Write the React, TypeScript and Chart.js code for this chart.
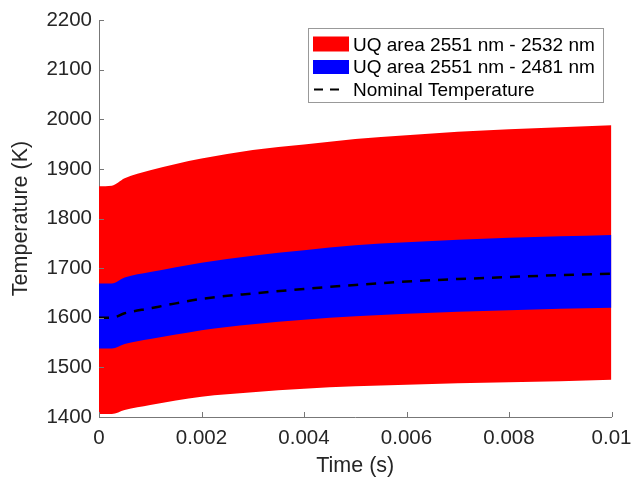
import { useEffect, useRef } from "react";
import { Chart, registerables } from "chart.js";

Chart.register(...registerables);

// Time (s)
const timeS = [0, 0.00025, 0.0005, 0.001, 0.0015, 0.002, 0.003, 0.004, 0.005, 0.006, 0.007, 0.008, 0.009, 0.01];
// Outer UQ band (2551 nm - 2532 nm)
const redUpper = [1865, 1866, 1881, 1897, 1910, 1921, 1938, 1949, 1960, 1968, 1975, 1980, 1984, 1988];
const redLower = [1406, 1406, 1414, 1424, 1433, 1441, 1450, 1457, 1462, 1465, 1468, 1470, 1472, 1475];
// Inner UQ band (2551 nm - 2481 nm)
const blueUpper = [1669, 1669, 1681, 1692, 1702, 1711, 1725, 1736, 1746, 1752, 1757, 1761, 1764, 1767];
const blueLower = [1538, 1538, 1547, 1557, 1566, 1575, 1587, 1596, 1603, 1608, 1612, 1615, 1618, 1620];
// Nominal temperature
const nominal = [1600, 1600, 1609, 1619, 1629, 1638, 1649, 1658, 1666, 1673, 1678, 1682, 1686, 1689];

const xTickValues = [0, 0.002, 0.004, 0.006, 0.008, 0.01];
const xTickLabels = ["0", "0.002", "0.004", "0.006", "0.008", "0.01"];
const yTickValues = [1400, 1500, 1600, 1700, 1800, 1900, 2000, 2100, 2200];

const legendLabels = ["UQ area 2551 nm - 2532 nm", "UQ area 2551 nm - 2481 nm", "Nominal Temperature"];

const FONT = "'Liberation Sans', Arial, Helvetica, sans-serif";
const AXIS_COLOR = "#777777";
const TEXT_COLOR = "#262626";

const pts = (ys: number[]) => timeS.map((t, i) => ({ x: t, y: ys[i] }));

const innerTicks = {
  id: "innerTicks",
  afterDraw(chart: any) {
    const { ctx, chartArea } = chart;
    const xs = chart.scales.x;
    const ys = chart.scales.y;
    ctx.save();
    ctx.strokeStyle = AXIS_COLOR;
    ctx.lineWidth = 1;
    ctx.beginPath();
    xs.ticks.forEach((_: any, i: number) => {
      const px = Math.round(xs.getPixelForTick(i)) + 0.5;
      ctx.moveTo(px, chartArea.bottom);
      ctx.lineTo(px, chartArea.bottom - 5);
    });
    ys.ticks.forEach((_: any, i: number) => {
      const py = Math.round(ys.getPixelForTick(i)) + 0.5;
      ctx.moveTo(chartArea.left, py);
      ctx.lineTo(chartArea.left + 5, py);
    });
    ctx.stroke();
    ctx.restore();
  },
};

const boxLegend = {
  id: "boxLegend",
  afterDraw(chart: any) {
    const { ctx } = chart;
    const bx = 308.5, by = 28.5, bw = 295, bh = 74;
    ctx.save();
    ctx.fillStyle = "#ffffff";
    ctx.fillRect(bx, by, bw, bh);
    ctx.strokeStyle = "#999999";
    ctx.lineWidth = 1;
    ctx.strokeRect(bx, by, bw, bh);
    const rows = [44.5, 67, 89.5];
    ctx.font = `19px ${FONT}`;
    ctx.textBaseline = "middle";
    ctx.textAlign = "left";
    ctx.fillStyle = "#ff0000";
    ctx.fillRect(313, rows[0] - 8, 36, 15);
    ctx.fillStyle = "#0000ff";
    ctx.fillRect(313, rows[1] - 7, 36, 14);
    ctx.strokeStyle = "#000000";
    ctx.lineWidth = 2;
    ctx.setLineDash([9, 7]);
    ctx.beginPath();
    ctx.moveTo(314, rows[2]);
    ctx.lineTo(341, rows[2]);
    ctx.stroke();
    ctx.setLineDash([]);
    ctx.fillStyle = "#000000";
    legendLabels.forEach((l, i) => ctx.fillText(l, 353, rows[i] + 1));
    ctx.restore();
  },
};

export default function App() {
  const ref = useRef<HTMLCanvasElement | null>(null);
  useEffect(() => {
    if (!ref.current) return;
    const common = { pointRadius: 0, cubicInterpolationMode: "monotone" as const };
    const chart = new Chart(ref.current, {
      type: "line",
      data: {
        datasets: [
          {
            ...common,
            label: legendLabels[2],
            data: pts(nominal),
            borderColor: "#000000",
            borderWidth: 2.5,
            borderDash: [10, 8],
            fill: false,
          },
          {
            ...common,
            label: legendLabels[1],
            data: pts(blueUpper),
            borderWidth: 0,
            borderColor: "#0000ff",
            backgroundColor: "#0000ff",
            fill: "+1",
          },
          {
            ...common,
            label: "blue lower",
            data: pts(blueLower),
            borderWidth: 0,
            borderColor: "#0000ff",
            fill: false,
          },
          {
            ...common,
            label: legendLabels[0],
            data: pts(redUpper),
            borderWidth: 0,
            borderColor: "#ff0000",
            backgroundColor: "#ff0000",
            fill: "+1",
          },
          {
            ...common,
            label: "red lower",
            data: pts(redLower),
            borderWidth: 0,
            borderColor: "#ff0000",
            fill: false,
          },
        ],
      },
      options: {
        animation: false,
        responsive: false,
        events: [],
        layout: { padding: { left: 0, top: 20, right: 20.5, bottom: 0 } },
        plugins: { legend: { display: false }, tooltip: { enabled: false } },
        scales: {
          x: {
            type: "linear",
            min: 0,
            max: 0.01,
            afterBuildTicks: (s: any) => {
              s.ticks = xTickValues.map((v) => ({ value: v }));
            },
            afterFit: (s: any) => {
              s.height = 64;
              s.paddingLeft = 0;
              s.paddingRight = 0;
            },
            grid: { display: false, drawTicks: false },
            border: { display: true, color: AXIS_COLOR, width: 1 },
            ticks: {
              padding: 9,
              color: TEXT_COLOR,
              font: { family: FONT, size: 20.5 },
              maxRotation: 0,
              autoSkip: false,
              callback: (v: any) => {
                const i = xTickValues.findIndex((t) => Math.abs(t - v) < 1e-9);
                return i >= 0 ? xTickLabels[i] : "";
              },
            },
            title: {
              display: true,
              text: "Time (s)",
              color: TEXT_COLOR,
              font: { family: FONT, size: 21.5 },
              padding: { top: 0, bottom: 2 },
            },
          },
          y: {
            min: 1400,
            max: 2200,
            afterBuildTicks: (s: any) => {
              s.ticks = yTickValues.map((v) => ({ value: v }));
            },
            afterFit: (s: any) => {
              s.width = 99;
              s.paddingTop = 0;
              s.paddingBottom = 0;
            },
            grid: { display: false, drawTicks: false },
            border: { display: true, color: AXIS_COLOR, width: 1 },
            ticks: {
              padding: 7,
              color: TEXT_COLOR,
              font: { family: FONT, size: 20.5 },
              autoSkip: false,
              callback: (v: any) => String(v),
            },
            title: {
              display: true,
              text: "Temperature (K)",
              color: TEXT_COLOR,
              font: { family: FONT, size: 21.5 },
              padding: { top: 8, bottom: 0 },
            },
          },
        },
      },
      plugins: [innerTicks, boxLegend],
    });
    return () => chart.destroy();
  }, []);
  return (
    <div style={{ position: "absolute", left: 0, top: 0, width: 632, height: 481, background: "#ffffff" }}>
      <canvas ref={ref} width={632} height={481} style={{ display: "block", width: 632, height: 481 }} />
    </div>
  );
}
